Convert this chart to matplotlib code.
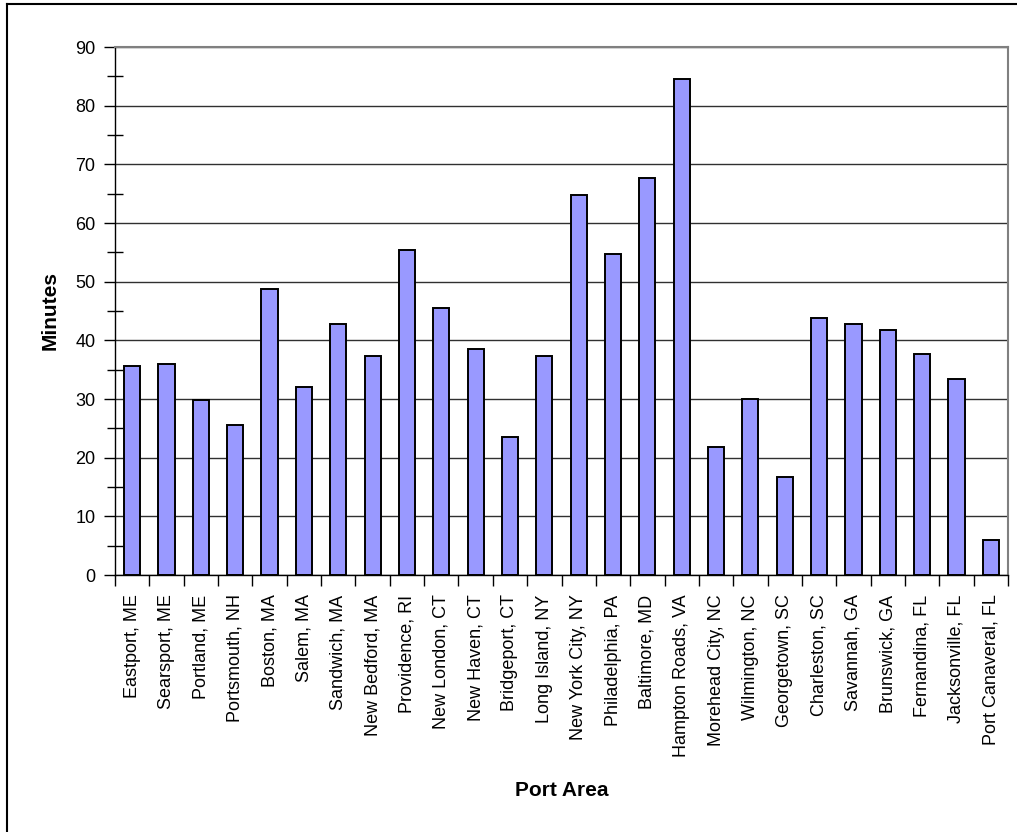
import matplotlib
matplotlib.use("Agg")
import matplotlib.pyplot as plt
from matplotlib.ticker import MultipleLocator, FixedLocator, NullFormatter

plt.rcParams['font.family'] = ['Liberation Sans Narrow', 'Liberation Sans', 'DejaVu Sans']

ports = ["Eastport, ME", "Searsport, ME", "Portland, ME", "Portsmouth, NH", "Boston, MA",
         "Salem, MA", "Sandwich, MA", "New Bedford, MA", "Providence, RI", "New London, CT",
         "New Haven, CT", "Bridgeport, CT", "Long Island, NY", "New York City, NY",
         "Philadelphia, PA", "Baltimore, MD", "Hampton Roads, VA", "Morehead City, NC",
         "Wilmington, NC", "Georgetown, SC", "Charleston, SC", "Savannah, GA", "Brunswick, GA",
         "Fernandina, FL", "Jacksonville, FL", "Port Canaveral, FL"]
minutes = [35.6, 36.0, 29.8, 25.5, 48.8, 32.0, 42.8, 37.3, 55.4, 45.5, 38.6, 23.5, 37.3,
           64.8, 54.7, 67.7, 84.5, 21.9, 30.0, 16.7, 43.8, 42.8, 41.8, 37.7, 33.4, 5.9]

fig = plt.figure(figsize=(10.17, 8.32), dpi=100)
ax = fig.add_axes([115/1017, 1-575/832, (1008-115)/1017, (575-47)/832])

x = list(range(len(ports)))
ax.bar(x, minutes, width=0.47, color='#9999ff', edgecolor='black', linewidth=1.4, zorder=3)

ax.set_xlim(-0.5, len(ports)-0.5)
ax.set_ylim(0, 90)
ax.yaxis.set_major_locator(MultipleLocator(10))
ax.yaxis.set_minor_locator(MultipleLocator(5))
ax.grid(axis='y', which='major', color='#303030', linewidth=1, zorder=1)

ax.set_xticks(x)
ax.set_xticklabels(ports, rotation=90, fontsize=13)
ax.tick_params(axis='x', which='major', length=0, pad=14)
ax.xaxis.set_minor_locator(FixedLocator([i - 0.5 for i in range(len(ports)+1)]))
ax.xaxis.set_minor_formatter(NullFormatter())
ax.tick_params(axis='x', which='minor', direction='out', length=8, width=1)
ax.tick_params(axis='y', which='major', direction='out', length=8, width=1, labelsize=13, pad=6)
ax.tick_params(axis='y', which='minor', direction='inout', length=12, width=1)

for s in ['left', 'bottom']:
    ax.spines[s].set_color('black')
    ax.spines[s].set_linewidth(1)
for s in ['right', 'top']:
    ax.spines[s].set_color('#808080')
    ax.spines[s].set_linewidth(1.5)

ax.set_ylabel("Minutes", fontsize=15, fontweight='bold', labelpad=11)
ax.set_xlabel("Port Area", fontsize=15, fontweight='bold', labelpad=17)

# outer chart border (only left and top visible)
fig.add_artist(plt.Line2D([7/1017, 7/1017], [0, 1-4/832], color='black', linewidth=1.5))
fig.add_artist(plt.Line2D([7/1017, 1], [1-4/832, 1-4/832], color='black', linewidth=1.5))

fig.savefig("out.png", dpi=100)
